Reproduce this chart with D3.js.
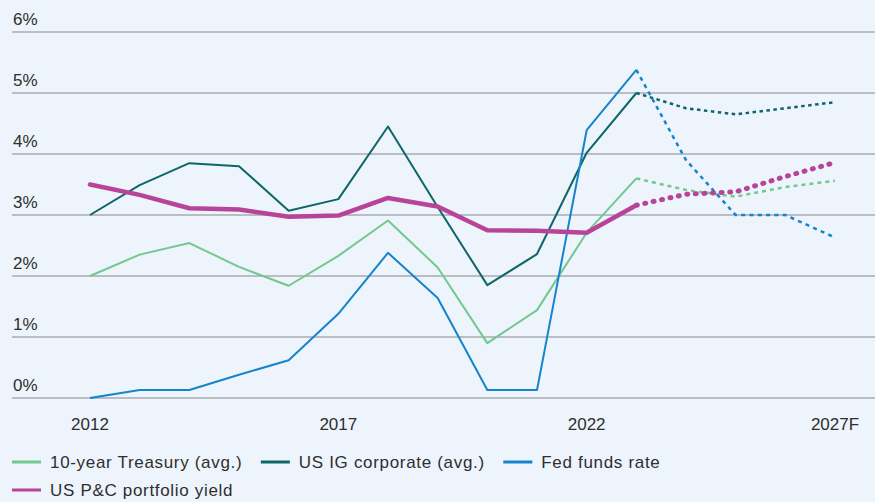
<!DOCTYPE html>
<html>
<head>
<meta charset="utf-8">
<script src="https://cdn.jsdelivr.net/npm/d3@7/dist/d3.min.js"></script>
<style>
  html, body { margin: 0; padding: 0; background: #edf4fc; }
  svg { display: block; }
  text { font-family: "Liberation Sans", Arial, sans-serif; fill: #2e2e2e; }
</style>
</head>
<body>
<svg id="chart" width="875" height="502"></svg>
<script>
const years = [2012,2013,2014,2015,2016,2017,2018,2019,2020,2021,2022,2023,2024,2025,2026,2027];
const forecastStart = 2023;
const xTickYears = [2012, 2017, 2022, 2027];
const xTickLabels = ["2012", "2017", "2022", "2027F"];
const yTicks = [0, 1, 2, 3, 4, 5, 6];

const treasury  = [2.00,2.35,2.54,2.15,1.84,2.33,2.91,2.14,0.90,1.44,2.71,3.60,3.41,3.30,3.46,3.56];
const igCorp    = [3.00,3.49,3.85,3.80,3.07,3.26,4.45,3.13,1.85,2.36,4.02,5.00,4.75,4.65,4.75,4.85];
const fedFunds  = [0.00,0.13,0.13,0.38,0.62,1.38,2.38,1.64,0.13,0.13,4.39,5.38,3.90,3.00,3.00,2.63];
const pcYield   = [3.50,3.33,3.11,3.09,2.97,2.99,3.28,3.14,2.75,2.74,2.71,3.16,3.34,3.38,3.63,3.86];

const seriesNames = ["10-year Treasury (avg.)", "US IG corporate (avg.)", "Fed funds rate", "US P&C portfolio yield"];
const seriesColors = ["#72c88f", "#0e6668", "#1584cb", "#b8449a"];
const seriesValues = [treasury, igCorp, fedFunds, pcYield];
const seriesWidths = [2, 2, 2, 4.5];
const seriesDash = ["4,4", "3.5,3.5", "4,4.3", "1,7.6"];
const seriesCaps = ["butt", "butt", "butt", "round"];

const svg = d3.select("#chart");
const x = d3.scaleLinear().domain([2012, 2027]).range([90, 835]);
const y = d3.scaleLinear().domain([0, 6]).range([398, 32]);

// gridlines
const grid = svg.append("g");
grid.selectAll("line").data(yTicks).join("line")
  .attr("x1", 12).attr("x2", 875)
  .attr("y1", d => y(d)).attr("y2", d => y(d))
  .attr("stroke", "#a9abb0").attr("stroke-width", 1.5);
grid.selectAll("text").data(yTicks).join("text")
  .attr("x", 13).attr("y", d => y(d) - 7)
  .attr("font-size", 17)
  .text(d => d + "%");

// x axis labels
svg.append("g").selectAll("text").data(xTickYears).join("text")
  .attr("x", d => x(d)).attr("y", 430)
  .attr("text-anchor", "middle")
  .attr("font-size", 17)
  .text((d, i) => xTickLabels[i]);

const line = d3.line().x(d => x(d.year)).y(d => y(d.v));

seriesValues.forEach((vals, i) => {
  const pts = years.map((yr, j) => ({year: yr, v: vals[j]}));
  const solid = pts.filter(p => p.year <= forecastStart);
  const dotted = pts.filter(p => p.year >= forecastStart);
  svg.append("path").attr("d", line(solid))
    .attr("fill", "none").attr("stroke", seriesColors[i])
    .attr("stroke-width", seriesWidths[i])
    .attr("stroke-linejoin", "round")
    .attr("stroke-linecap", seriesCaps[i]);
  svg.append("path").attr("d", line(dotted))
    .attr("fill", "none").attr("stroke", seriesColors[i])
    .attr("stroke-width", seriesWidths[i] + 0.5)
    .attr("stroke-dasharray", seriesDash[i])
    .attr("stroke-linecap", seriesCaps[i]);
});

// legend
const legend = svg.append("g");
let lx = 12;
const rowY = [462, 490];
const layout = [[0, 0], [0, 1], [0, 2], [1, 3]];
let curRow = 0;
layout.forEach(([row, si]) => {
  if (row !== curRow) { curRow = row; lx = 12; }
  const ly = rowY[row];
  legend.append("line")
    .attr("x1", lx).attr("x2", lx + 29)
    .attr("y1", ly).attr("y2", ly)
    .attr("stroke", seriesColors[si]).attr("stroke-width", 3);
  const t = legend.append("text")
    .attr("x", lx + 38).attr("y", ly + 6)
    .attr("font-size", 17)
    .attr("letter-spacing", 0.68)
    .text(seriesNames[si]);
  lx = lx + 38 + t.node().getComputedTextLength() + 18.5;
});
</script>
</body>
</html>
